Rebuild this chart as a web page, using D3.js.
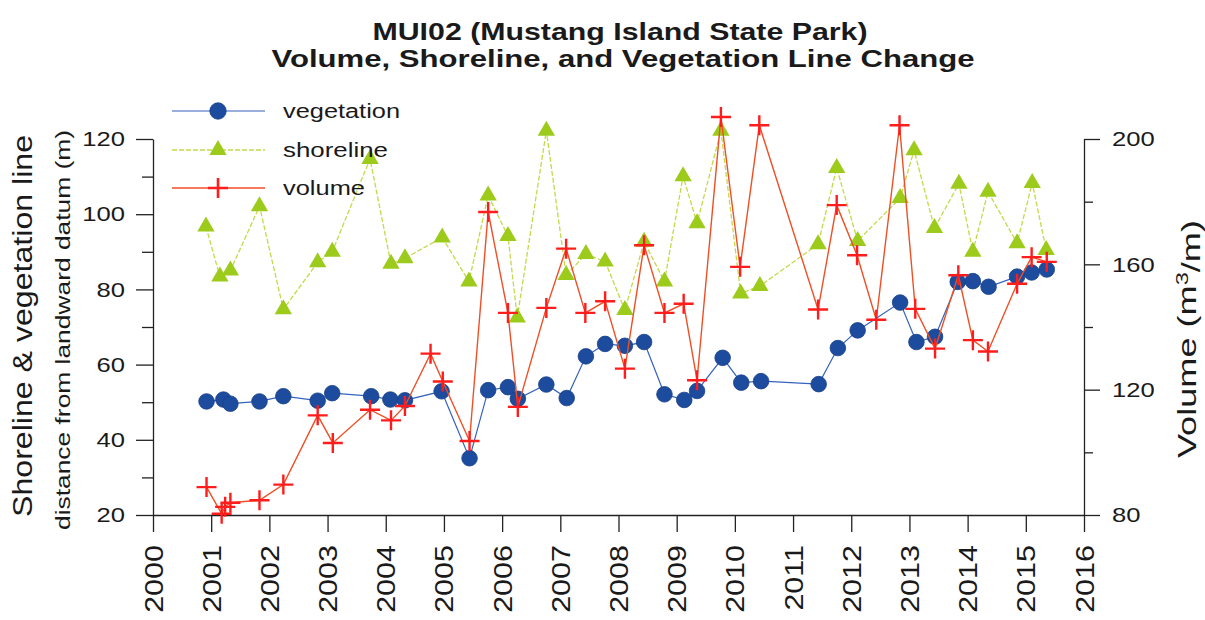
<!DOCTYPE html>
<html>
<head>
<meta charset="utf-8">
<script src="https://cdn.jsdelivr.net/npm/d3@7"></script>
<style>
  body { margin: 0; background: #fff; }
  text { font-family: "Liberation Sans", Arial, sans-serif; fill: #1a1a1a; }
</style>
</head>
<body>
<script>
// data (decimal years)
var yearTicks = [2000, 2001, 2002, 2003, 2004, 2005, 2006, 2007, 2008,
                 2009, 2010, 2011, 2012, 2013, 2014, 2015, 2016];
var leftTicks = [20, 40, 60, 80, 100, 120];
var leftMinor = [30, 50, 70, 90, 110];
var rightTicks = [80, 120, 160, 200];
var rightMinor = [100, 140, 180];

var vegYears = [2000.92, 2001.21, 2001.33, 2001.83, 2002.24, 2002.83, 2003.08, 2003.75, 2004.08, 2004.33,
                2004.96, 2005.44, 2005.76, 2006.10, 2006.27, 2006.76, 2007.11, 2007.44, 2007.77, 2008.11,
                2008.44, 2008.79, 2009.13, 2009.35, 2009.79, 2010.11, 2010.45, 2011.44, 2011.77, 2012.11,
                2012.84, 2013.12, 2013.44, 2013.83, 2014.09, 2014.36, 2014.85, 2015.10, 2015.36];
var vegValues = [50.2, 50.7, 49.6, 50.2, 51.6, 50.4, 52.4, 51.6, 50.7, 50.5,
                 52.9, 35.1, 53.2, 54.0, 50.9, 54.7, 51.1, 62.2, 65.5, 65.0,
                 66.0, 52.1, 50.6, 53.0, 61.8, 55.2, 55.6, 54.8, 64.4, 69.1,
                 76.5, 66.0, 67.4, 82.0, 82.2, 80.7, 83.4, 84.5, 85.3];

var shoreYears = [2000.91, 2001.15, 2001.33, 2001.83, 2002.24, 2002.83, 2003.08, 2003.73, 2004.09, 2004.33,
                  2004.97, 2005.43, 2005.76, 2006.10, 2006.26, 2006.76, 2007.10, 2007.44, 2007.77, 2008.11,
                  2008.44, 2008.79, 2009.11, 2009.35, 2009.76, 2010.10, 2010.43, 2011.43, 2011.75, 2012.11,
                  2012.84, 2013.08, 2013.43, 2013.85, 2014.09, 2014.35, 2014.85, 2015.11, 2015.35];
var shoreValues = [96.7, 83.4, 85.0, 102.1, 74.7, 87.2, 90.0, 114.7, 86.8, 88.3,
                   93.8, 82.1, 105.0, 94.2, 72.5, 122.2, 83.8, 89.4, 87.4, 74.5,
                   92.7, 82.1, 110.1, 97.6, 122.2, 78.9, 80.9, 92.0, 112.3, 92.9,
                   104.3, 117.0, 96.3, 108.1, 90.0, 106.0, 92.3, 108.3, 90.5];

var volYears = [2000.92, 2001.18, 2001.24, 2001.33, 2001.83, 2002.24, 2002.83, 2003.09, 2003.73, 2004.09,
                2004.33, 2004.77, 2004.98, 2005.44, 2005.76, 2006.10, 2006.27, 2006.76, 2007.10, 2007.43,
                2007.77, 2008.11, 2008.44, 2008.79, 2009.12, 2009.35, 2009.76, 2010.09, 2010.42, 2011.43,
                2011.75, 2012.10, 2012.43, 2012.83, 2013.10, 2013.44, 2013.84, 2014.09, 2014.35, 2014.85,
                2015.10, 2015.36];
var volValues = [88.9, 80.4, 82.6, 83.9, 84.7, 89.7, 111.8, 103.0, 113.6, 110.2,
                 114.8, 131.5, 122.6, 103.6, 176.7, 144.5, 114.5, 146.1, 165.0, 144.5,
                 148.2, 126.7, 166.1, 144.5, 147.4, 123.0, 207.0, 159.2, 204.4, 145.6,
                 178.9, 162.9, 142.3, 204.4, 145.8, 133.1, 156.5, 135.8, 132.2, 153.8,
                 162.3, 160.8];

var width = 1205, height = 620;
var plot = {left: 153, right: 1084, top: 139, bottom: 515};

var svg = d3.select("body").append("svg")
    .attr("width", width)
    .attr("height", height);

// the scanned lettering is wide, so text gets stretched along its run
function fit(sel, len) {
  sel.attr("textLength", len).attr("lengthAdjust", "spacingAndGlyphs");
}
function widen(sel, k) {
  sel.each(function() {
    var w = this.getComputedTextLength();
    d3.select(this).attr("textLength", w * k).attr("lengthAdjust", "spacingAndGlyphs");
  });
}

var x = d3.scaleLinear().domain([2000, 2016]).range([plot.left, plot.right]);
var yL = d3.scaleLinear().domain([20, 120]).range([plot.bottom, plot.top]);
var yR = d3.scaleLinear().domain([80, 200]).range([plot.bottom, plot.top]);

//titles
svg.append("text")
  .attr("x", 620).attr("y", 40)
  .attr("text-anchor", "middle")
  .style("font-size", "24px").style("font-weight", "bold")
  .text("MUI02 (Mustang Island State Park)")
  .call(fit, 495);

svg.append("text")
  .attr("x", 623).attr("y", 67)
  .attr("text-anchor", "middle")
  .style("font-size", "24px").style("font-weight", "bold")
  .text("Volume, Shoreline, and Vegetation Line Change")
  .call(fit, 703);

//axes
var axisColor = "#222";

// left axis: minor ticks first, then labelled ticks
svg.append("g")
  .attr("transform", "translate(" + plot.left + ",0)")
  .call(d3.axisLeft(yL).tickValues(leftMinor).tickSize(11).tickSizeOuter(0).tickFormat(""))
  .call(function(g) { g.select(".domain").remove(); });

var leftAxis = svg.append("g")
  .attr("class", "y axis")
  .attr("transform", "translate(" + plot.left + ",0)")
  .call(d3.axisLeft(yL).tickValues(leftTicks).tickSize(17).tickSizeOuter(0).tickPadding(11));

// right axis
svg.append("g")
  .attr("transform", "translate(" + plot.right + ",0)")
  .call(d3.axisRight(yR).tickValues(rightMinor).tickSize(9).tickSizeOuter(0).tickFormat(""))
  .call(function(g) { g.select(".domain").remove(); });

var rightAxis = svg.append("g")
  .attr("class", "y2 axis")
  .attr("transform", "translate(" + plot.right + ",0)")
  .call(d3.axisRight(yR).tickValues(rightTicks).tickSize(16).tickSizeOuter(0).tickPadding(12));

// bottom axis, rotated year labels
var xAxis = svg.append("g")
  .attr("class", "xAxis")
  .attr("transform", "translate(0," + plot.bottom + ")")
  .call(d3.axisBottom(x).tickValues(yearTicks).tickFormat(d3.format("d")).tickSize(17).tickSizeOuter(0));

xAxis.selectAll("text")
  .attr("transform", "rotate(-90)")
  .attr("x", -30).attr("y", 0).attr("dy", "0.36em")
  .style("text-anchor", "end")
  .style("font-size", "25px");

svg.selectAll(".axis, .xAxis").selectAll("path, line")
  .attr("stroke", axisColor).attr("stroke-width", 1.3);
svg.selectAll("g").selectAll("line").attr("stroke", axisColor).attr("stroke-width", 1.3);

leftAxis.selectAll("text").style("font-size", "21px").attr("fill", "#1a1a1a");
rightAxis.selectAll("text").style("font-size", "21px").attr("fill", "#1a1a1a");
xAxis.selectAll("text").attr("fill", "#1a1a1a");
svg.selectAll(".axis text, .xAxis text").call(widen, 1.22);

//axis labels
svg.append("text")
  .attr("transform", "translate(32,326) rotate(-90)")
  .attr("text-anchor", "middle")
  .style("font-size", "27px")
  .text("Shoreline & vegetation line")
  .call(fit, 382);

svg.append("text")
  .attr("transform", "translate(70,330) rotate(-90)")
  .attr("text-anchor", "middle")
  .style("font-size", "21px")
  .text("distance from landward datum (m)")
  .call(fit, 400);

var volLabel = svg.append("text")
  .attr("transform", "translate(1196,339) rotate(-90)")
  .attr("text-anchor", "middle")
  .style("font-size", "26px");
volLabel.append("tspan").text("Volume (m");
volLabel.append("tspan").text("3").attr("dy", "-0.45em").style("font-size", "17px");
volLabel.append("tspan").text("/m)").attr("dy", "0.45em");
volLabel.call(fit, 238);

//series
var vegColor = "#1d4c9e", vegLine = "#3462bd";
var shoreColor = "#9dcb1c", shoreLine = "#c6d84a";
var volColor = "#ff1c1c", volLine = "#ef4f25";

var vegData = d3.zip(vegYears, vegValues);
var shoreData = d3.zip(shoreYears, shoreValues);
var volData = d3.zip(volYears, volValues);

var lineL = d3.line().x(function(d) { return x(d[0]); }).y(function(d) { return yL(d[1]); });
var lineR = d3.line().x(function(d) { return x(d[0]); }).y(function(d) { return yR(d[1]); });

var triangle = d3.symbol().type(d3.symbolTriangle).size(130);
var plus = "M-10,0H10M0,-10V10";

// shoreline
svg.append("path")
  .datum(shoreData)
  .attr("d", lineL)
  .attr("fill", "none")
  .attr("stroke", shoreLine)
  .attr("stroke-width", 1.3)
  .attr("stroke-dasharray", "5,2");

svg.selectAll(".shore")
  .data(shoreData)
  .enter()
  .append("path")
  .attr("class", "shore")
  .attr("d", triangle)
  .attr("transform", function(d) { return "translate(" + x(d[0]) + "," + yL(d[1]) + ")"; })
  .attr("fill", shoreColor);

// vegetation
svg.append("path")
  .datum(vegData)
  .attr("d", lineL)
  .attr("fill", "none")
  .attr("stroke", vegLine)
  .attr("stroke-width", 1.2);

svg.selectAll(".veg")
  .data(vegData)
  .enter()
  .append("circle")
  .attr("class", "veg")
  .attr("cx", function(d) { return x(d[0]); })
  .attr("cy", function(d) { return yL(d[1]); })
  .attr("r", 7.8)
  .attr("fill", vegColor)
  .attr("stroke", "#173f86")
  .attr("stroke-width", 0.8);

// volume
svg.append("path")
  .datum(volData)
  .attr("d", lineR)
  .attr("fill", "none")
  .attr("stroke", volLine)
  .attr("stroke-width", 1.4);

svg.selectAll(".vol")
  .data(volData)
  .enter()
  .append("path")
  .attr("class", "vol")
  .attr("d", plus)
  .attr("transform", function(d) { return "translate(" + x(d[0]) + "," + yR(d[1]) + ")"; })
  .attr("fill", "none")
  .attr("stroke", volColor)
  .attr("stroke-width", 2.4);

//legend
var legendItems = [
  {name: "vegetation", y: 111, len: 117},
  {name: "shoreline", y: 150, len: 105},
  {name: "volume", y: 188, len: 82}
];

var legend = svg.selectAll(".legend")
  .data(legendItems)
  .enter()
  .append("g")
  .attr("class", "legend")
  .attr("transform", function(d) { return "translate(0," + d.y + ")"; });

legend.append("line")
  .attr("x1", 172).attr("x2", 265)
  .attr("stroke", function(d, i) { return [vegLine, shoreLine, volLine][i]; })
  .attr("stroke-width", function(d, i) { return [1.2, 1.5, 1.5][i]; })
  .attr("stroke-dasharray", function(d, i) { return i === 1 ? "5,2" : null; });

legend.each(function(d, i) {
  var g = d3.select(this);
  if (i === 0) {
    g.append("circle").attr("cx", 218).attr("r", 8.2)
      .attr("fill", vegColor).attr("stroke", "#173f86").attr("stroke-width", 0.8);
  } else if (i === 1) {
    g.append("path").attr("d", triangle).attr("transform", "translate(218,0)").attr("fill", shoreColor);
  } else {
    g.append("path").attr("d", plus).attr("transform", "translate(218,0)")
      .attr("fill", "none").attr("stroke", volColor).attr("stroke-width", 2.6);
  }
});

legend.append("text")
  .attr("x", 283).attr("y", 7)
  .style("font-size", "20px")
  .text(function(d) { return d.name; })
  .each(function(d) { d3.select(this).call(fit, d.len); });
</script>
</body>
</html>
